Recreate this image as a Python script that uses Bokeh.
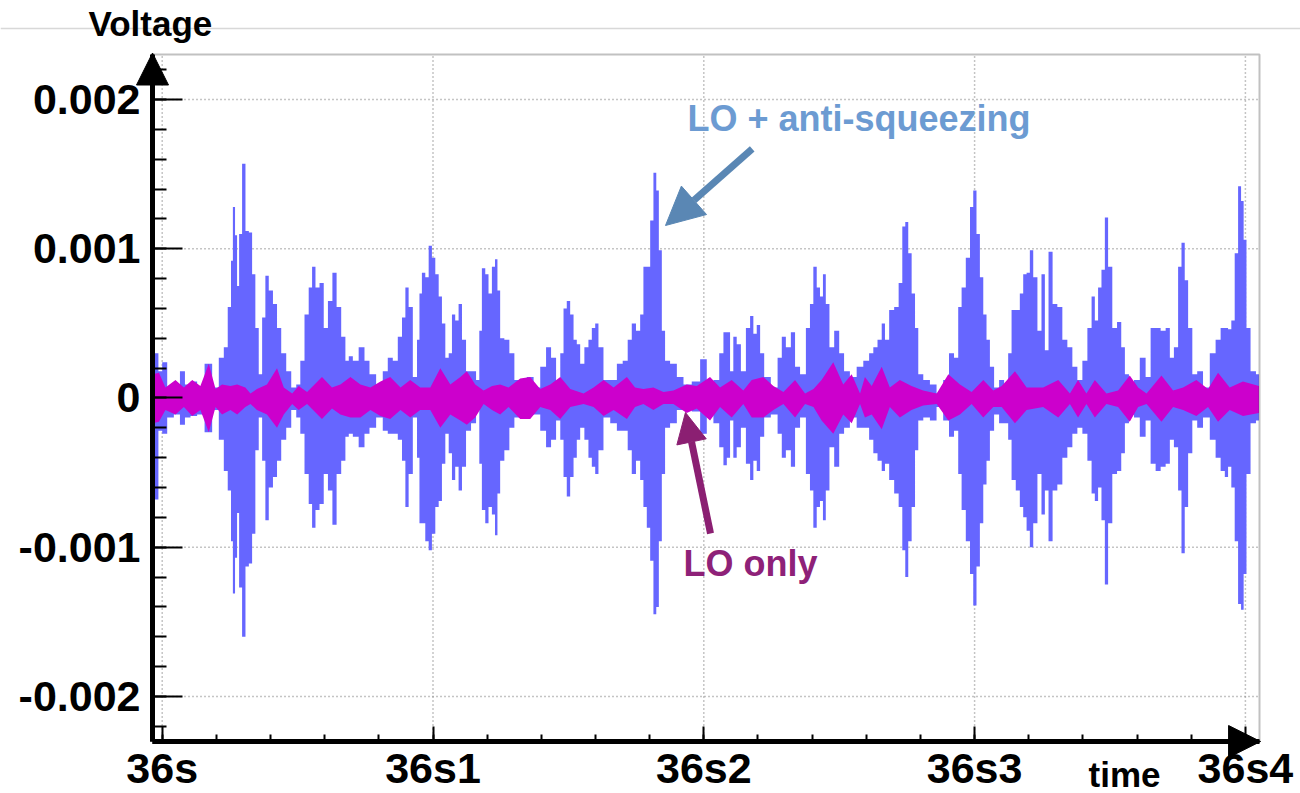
from bokeh.plotting import figure
from bokeh.models import (ColumnDataSource, Range1d, FixedTicker, Label, Arrow, Span,
                          NormalHead, CustomJSTickFormatter, BoxAnnotation)
from bokeh.embed import file_html
from bokeh.resources import INLINE

# ---------------- data (time in ms after 36 s, voltage in mV) ----------------
blue_t = [-3.5, -2.2, -0.6, 0.6, 3.1, 5.5, 7.6, 9.2, 11.7, 14.1, 17.2, 19.7, 22.1, 23.4, 25.0, 25.8, 26.4,
          27.4, 27.9, 28.9, 30.1, 31.4, 32.6, 33.8, 35.0, 36.3, 37.5, 38.7, 40.0, 41.8, 43.0, 44.9, 46.7,
          48.6, 50.4, 51.6, 53.5, 54.7, 56.0, 57.2, 59.0, 60.3, 62.1, 63.6, 65.2, 67.0, 68.3, 69.5, 71.3,
          73.8, 75.6, 77.5, 80.5, 82.4, 84.2, 86.1, 87.9, 89.2, 90.4, 91.6, 93.5, 94.7, 95.3, 96.5, 97.8,
          99.0, 100.2, 101.5, 102.7, 103.9, 105.2, 106.4, 107.6, 108.8, 110.1, 111.3, 113.1, 115.0, 116.8,
          117.4, 118.7, 119.9, 121.1, 122.4, 123.4, 124.2, 125.4, 127.3, 129.1, 131.0, 133.4, 135.9, 138.4,
          140.8, 142.7, 144.5, 146.4, 147.6, 148.8, 150.0, 151.3, 152.5, 153.7, 155.0, 156.8, 158.0, 159.3,
          160.5, 161.7, 164.2, 166.7, 169.1, 171.0, 172.8, 174.0, 175.9, 177.1, 178.3, 179.6, 180.8, 182.0,
          182.9, 183.9, 185.1, 186.3, 188.8, 191.3, 193.7, 197.4, 199.9, 202.3, 204.8, 206.6, 207.9, 209.1,
          210.3, 211.5, 212.8, 214.6, 216.5, 217.7, 218.9, 220.2, 221.4, 223.2, 226.3, 228.2, 229.4, 231.2,
          233.1, 234.3, 236.8, 238.6, 239.8, 241.1, 242.3, 243.5, 244.5, 245.6, 247.2, 249.1, 250.9, 252.7,
          255.2, 257.7, 260.1, 262.0, 263.2, 265.1, 266.3, 267.5, 269.4, 271.2, 272.7, 273.9, 274.9, 276.1,
          277.4, 278.6, 279.8, 282.3, 284.7, 287.2, 289.6, 291.5, 293.3, 294.6, 295.8, 297.7, 298.9, 300.1,
          301.3, 302.6, 303.8, 305.0, 306.3, 308.1, 310.0, 311.8, 313.0, 314.3, 316.1, 317.3, 318.6, 319.8,
          321.0, 322.3, 324.1, 325.3, 326.6, 328.0, 329.6, 331.5, 333.3, 335.2, 337.0, 338.9, 340.7, 342.6,
          343.8, 345.0, 346.2, 347.5, 348.7, 349.9, 351.8, 353.4, 354.9, 356.1, 357.9, 359.8, 362.2, 364.1,
          365.9, 367.8, 369.6, 371.5, 372.7, 374.5, 375.8, 377.0, 378.2, 379.5, 381.3, 383.1, 385.6, 388.1,
          389.9, 391.8, 393.0, 394.2, 395.4, 396.7, 397.9, 398.9, 399.8, 401.0, 402.8, 405.0]
blue_hi = [0.30, 0.30, 0.18, 0.24, 0.07, 0.09, 0.18, 0.09, 0.11, 0.08, 0.23, 0.07, 0.27, 0.34, 0.61, 0.92, 1.28,
           1.09, 0.75, 1.10, 1.57, 1.12, 1.11, 0.83, 0.47, 0.16, 0.54, 0.82, 0.72, 0.63, 0.47, 0.30, 0.18,
           0.07, 0.09, 0.25, 0.56, 0.74, 0.88, 0.74, 0.77, 0.47, 0.65, 0.84, 0.61, 0.41, 0.25, 0.28, 0.25,
           0.34, 0.25, 0.16, 0.07, 0.18, 0.27, 0.25, 0.41, 0.54, 0.74, 0.61, 0.14, 0.39, 0.70, 0.84, 0.81,
           1.02, 0.94, 0.83, 0.68, 0.50, 0.27, 0.30, 0.56, 0.52, 0.63, 0.39, 0.18, 0.18, 0.12,
           0.45, 0.87, 0.83, 0.70, 0.88, 0.93, 0.72, 0.40, 0.39, 0.30, 0.12, 0.09, 0.14, 0.07,
           0.21, 0.34, 0.27, 0.09, 0.30, 0.60, 0.65, 0.56, 0.39, 0.36, 0.23, 0.34, 0.39, 0.47,
           0.50, 0.34, 0.12, 0.12, 0.23, 0.25, 0.39, 0.50, 0.45, 0.56, 0.88, 0.88, 1.19, 1.51,
           1.39, 0.99, 0.45, 0.25, 0.23, 0.14, 0.09, 0.11, 0.26, 0.07, 0.12, 0.30, 0.44, 0.44,
           0.18, 0.41, 0.36, 0.18, 0.47, 0.55, 0.43, 0.49, 0.30, 0.14, 0.07, 0.27, 0.41, 0.34,
           0.44, 0.21, 0.16, 0.47, 0.63, 0.88, 0.74, 0.68, 0.83, 0.63, 0.34, 0.45, 0.30, 0.18,
           0.14, 0.21, 0.25, 0.30, 0.34, 0.39, 0.50, 0.39, 0.59, 0.61, 0.77, 1.15, 1.18, 0.97,
           0.70, 0.47, 0.16, 0.12, 0.09, 0.03, 0.12, 0.30, 0.27, 0.61, 0.74, 0.94, 1.28, 1.39,
           1.10, 0.81, 0.56, 0.39, 0.21, 0.07, 0.12, 0.07, 0.30, 0.59, 0.59, 0.70, 0.83, 0.84,
           0.99, 0.81, 0.45, 0.83, 0.32, 0.98, 0.63, 0.61, 0.39, 0.34, 0.21, 0.12, 0.25, 0.47,
           0.68, 0.52, 0.74, 0.86, 1.21, 0.88, 0.47, 0.51, 0.34, 0.16, 0.07, 0.12, 0.27, 0.14,
           0.47, 0.47, 0.45, 0.47, 0.27, 0.34, 0.88, 1.04, 0.79, 0.47, 0.16, 0.18, 0.07, 0.30,
           0.39, 0.47, 0.47, 0.46, 0.52, 0.97, 1.42, 1.32, 1.06, 0.47, 0.18, 0.16]
blue_lo = [-0.68, -0.68, -0.22, -0.24, -0.13, -0.11, -0.18, -0.13, -0.12, -0.11, -0.23, -0.08, -0.28, -0.49, -0.62, -0.96, -1.31,
           -1.07, -0.77, -1.27, -1.60, -1.13, -1.11, -0.91, -0.35, -0.13, -0.42, -0.82, -0.60, -0.53, -0.42, -0.28, -0.20,
           -0.08, -0.13, -0.24, -0.51, -0.71, -0.87, -0.75, -0.71, -0.51, -0.62, -0.85, -0.51, -0.42, -0.26, -0.24, -0.26,
           -0.33, -0.24, -0.20, -0.13, -0.22, -0.24, -0.24, -0.28, -0.42, -0.73, -0.51, -0.13, -0.40, -0.84, -0.84, -0.96,
           -1.02, -0.91, -0.73, -0.69, -0.44, -0.24, -0.37, -0.55, -0.46, -0.62, -0.46, -0.22, -0.17, -0.08,
           -0.44, -0.75, -0.84, -0.73, -0.78, -0.92, -0.64, -0.42, -0.35, -0.20, -0.13, -0.13, -0.11, -0.11,
           -0.22, -0.33, -0.28, -0.15, -0.28, -0.53, -0.66, -0.53, -0.40, -0.28, -0.20, -0.28, -0.40, -0.46,
           -0.51, -0.35, -0.13, -0.17, -0.22, -0.22, -0.35, -0.51, -0.42, -0.55, -0.73, -0.87, -1.09, -1.45,
           -1.40, -0.96, -0.51, -0.20, -0.17, -0.08, -0.08, -0.09, -0.24, -0.11, -0.17, -0.33, -0.45, -0.40,
           -0.15, -0.40, -0.33, -0.20, -0.44, -0.55, -0.42, -0.49, -0.26, -0.13, -0.11, -0.24, -0.40, -0.35,
           -0.46, -0.20, -0.13, -0.51, -0.62, -0.87, -0.73, -0.69, -0.82, -0.62, -0.33, -0.46, -0.24, -0.20,
           -0.13, -0.20, -0.20, -0.28, -0.37, -0.42, -0.49, -0.44, -0.55, -0.64, -0.73, -1.02, -1.20, -0.96,
           -0.73, -0.35, -0.15, -0.13, -0.15, -0.06, -0.15, -0.26, -0.22, -0.51, -0.75, -0.96, -1.18, -1.39,
           -1.13, -0.84, -0.58, -0.42, -0.22, -0.11, -0.17, -0.17, -0.28, -0.55, -0.62, -0.73, -0.80, -0.89,
           -1.00, -0.84, -0.51, -0.78, -0.62, -0.96, -0.62, -0.58, -0.40, -0.33, -0.24, -0.20, -0.24, -0.42,
           -0.64, -0.69, -0.60, -0.82, -1.25, -0.84, -0.51, -0.49, -0.37, -0.17, -0.11, -0.13, -0.26, -0.15,
           -0.44, -0.49, -0.46, -0.44, -0.28, -0.33, -0.62, -1.04, -0.73, -0.37, -0.15, -0.20, -0.13, -0.28,
           -0.40, -0.49, -0.53, -0.46, -0.60, -0.96, -1.38, -1.42, -1.18, -0.51, -0.17, -0.15]

mag_t = [-3.5, -1.2, 1.2, 4.9, 8.0, 11.1, 14.1, 17.2, 19.7, 22.1, 25.2, 27.7, 30.7, 32.6, 35.0, 38.7, 42.4,
         44.9, 48.0, 50.4, 53.5, 59.0, 62.7, 65.8, 69.5, 73.2, 76.9, 80.6, 84.2, 88.0, 91.6, 95.3, 99.0,
         102.7, 106.4, 110.1, 112.5, 115.6, 118.7, 121.8, 124.8, 127.9, 132.2, 135.9, 139.6, 143.3, 147.0,
         150.7, 155.6, 159.3, 163.0, 166.7, 171.6, 174.6, 177.7, 181.4, 185.1, 188.8, 193.7, 197.4, 202.3,
         206.0, 210.3, 214.6, 217.7, 222.0, 225.7, 229.4, 233.7, 237.4, 240.5, 243.5, 247.8, 251.5, 254.6,
         257.7, 259.5, 262.0, 265.7, 268.7, 272.4, 276.7, 281.0, 286.0, 290.3, 294.6, 298.9, 303.2, 306.9,
         310.0, 314.9, 319.2, 325.3, 330.9, 335.2, 338.2, 341.3, 344.4, 348.7, 353.0, 357.3, 360.4, 363.5,
         369.0, 373.3, 377.0, 381.9, 386.2, 389.9, 394.2, 399.1, 405.0]
mag_hi = [0.16, 0.17, 0.07, 0.12, 0.07, 0.12, 0.08, 0.23, 0.06, 0.09, 0.08, 0.09, 0.07, 0.03, 0.06, 0.09, 0.20,
          0.07, 0.03, 0.08, 0.04, 0.14, 0.07, 0.09, 0.14, 0.09, 0.07, 0.11, 0.14, 0.07, 0.12, 0.07, 0.07,
          0.20, 0.09, 0.14, 0.18, 0.09, 0.05, 0.08, 0.09, 0.07, 0.13, 0.14, 0.06, 0.09, 0.14,
          0.06, 0.03, 0.07, 0.12, 0.07, 0.14, 0.07, 0.06, 0.07, 0.04, 0.05, 0.09, 0.08, 0.14,
          0.07, 0.12, 0.05, 0.12, 0.14, 0.08, 0.04, 0.12, 0.03, 0.06, 0.12, 0.24, 0.09, 0.16,
          0.03, 0.14, 0.08, 0.21, 0.07, 0.12, 0.08, 0.05, 0.03, 0.16, 0.09, 0.04, 0.12, 0.05,
          0.08, 0.18, 0.07, 0.07, 0.12, 0.03, 0.12, 0.03, 0.12, 0.03, 0.05, 0.15, 0.07, 0.03,
          0.15, 0.05, 0.07, 0.12, 0.06, 0.17, 0.07, 0.11, 0.08]
mag_lo = [-0.17, -0.16, -0.08, -0.11, -0.06, -0.12, -0.08, -0.23, -0.06, -0.11, -0.08, -0.11, -0.06, -0.04, -0.08, -0.11, -0.20,
          -0.11, -0.04, -0.08, -0.04, -0.14, -0.07, -0.11, -0.13, -0.13, -0.08, -0.12, -0.14, -0.08, -0.13, -0.08, -0.08,
          -0.20, -0.11, -0.15, -0.18, -0.13, -0.04, -0.08, -0.11, -0.06, -0.14, -0.14, -0.06, -0.08, -0.14,
          -0.06, -0.04, -0.06, -0.12, -0.08, -0.14, -0.06, -0.04, -0.08, -0.04, -0.04, -0.10, -0.07, -0.15,
          -0.06, -0.13, -0.04, -0.13, -0.13, -0.08, -0.04, -0.13, -0.04, -0.06, -0.15, -0.24, -0.11, -0.17,
          -0.04, -0.13, -0.11, -0.21, -0.06, -0.13, -0.08, -0.05, -0.04, -0.15, -0.11, -0.04, -0.13, -0.06,
          -0.06, -0.17, -0.08, -0.06, -0.13, -0.04, -0.13, -0.04, -0.13, -0.04, -0.06, -0.16, -0.06, -0.04,
          -0.16, -0.06, -0.08, -0.12, -0.06, -0.16, -0.08, -0.12, -0.10]

x_ticks = [36.0, 36.1, 36.2, 36.3, 36.4]
x_labels = ["36s", "36s1", "36s2", "36s3", "36s4"]
y_ticks = [-0.002, -0.001, 0.0, 0.001, 0.002]
y_labels = ["-0.002", "-0.001", "0", "0.001", "0.002"]

# ---------------- figure ----------------
# plotting box limits
x_lo, x_hi = 35.996418, 36.405207
y_lim = 0.0023023
# whole canvas is the frame; axes are fixed at the plotting box edges
p = figure(width=1300, height=793, output_backend="svg", toolbar_location=None, tools="",
           title=None,
           x_range=Range1d(35.940288, 36.420347), y_range=Range1d(-0.0026508, 0.0026642),
           min_border=0, min_border_left=0, min_border_right=0, min_border_top=0, min_border_bottom=0,
           background_fill_color="white", border_fill_color="white")
p.outline_line_color = None
p.grid.visible = False

# grid lines (dotted) at major ticks
grid_style = dict(line_color="#8a8a8a", line_dash="1 3", line_width=1.5)
p.segment(x0=x_ticks, y0=[-y_lim] * len(x_ticks), x1=x_ticks, y1=[y_lim] * len(x_ticks), **grid_style)
p.segment(x0=[x_lo] * len(y_ticks), y0=y_ticks, x1=[x_hi] * len(y_ticks), y1=y_ticks, **grid_style)

blue_src = ColumnDataSource(dict(x=[36 + t / 1000 for t in blue_t],
                                 y1=[v / 1000 for v in blue_lo],
                                 y2=[v / 1000 for v in blue_hi]))
mag_src = ColumnDataSource(dict(x=[36 + t / 1000 for t in mag_t],
                                y1=[v / 1000 for v in mag_lo],
                                y2=[v / 1000 for v in mag_hi]))
p.varea_step(x="x", y1="y1", y2="y2", source=blue_src, fill_color="#6666ff", step_mode="center")
p.varea(x="x", y1="y1", y2="y2", source=mag_src, fill_color="#cc00cc")

# plotting box border
p.add_layout(BoxAnnotation(left=x_lo, right=x_hi, bottom=-y_lim, top=y_lim,
                           fill_color=None, line_color="#333333", line_width=2))

def fmt(vals, labs):
    return CustomJSTickFormatter(args=dict(vals=vals, labs=labs), code="""
        for (let i = 0; i < vals.length; i++) {
            if (Math.abs(tick - vals[i]) < 1e-9) return labs[i];
        }
        return '';
    """)

x_minor = [round(36 + 0.02 * i, 2) for i in range(21)]
y_minor = [round(-0.0022 + 0.0002 * i, 4) for i in range(23)]

xa = p.xaxis[0]
ya = p.yaxis[0]
xa.fixed_location = -y_lim
ya.fixed_location = x_lo
xa.bounds = (x_lo, x_hi)
ya.bounds = (-y_lim, y_lim)
xa.ticker = FixedTicker(ticks=x_ticks, minor_ticks=x_minor)
ya.ticker = FixedTicker(ticks=y_ticks, minor_ticks=y_minor)
xa.formatter = fmt(x_ticks, x_labels)
ya.formatter = fmt(y_ticks, y_labels)
for ax in (xa, ya):
    ax.axis_line_width = 5
    ax.axis_line_color = "black"
    ax.major_tick_out = 0
    ax.minor_tick_out = 0
    ax.major_tick_line_width = 2
    ax.minor_tick_line_width = 2
    ax.major_tick_line_color = "black"
    ax.minor_tick_line_color = "black"
    ax.major_label_text_font = "Liberation Sans"
    ax.major_label_text_font_style = "bold"
    ax.major_label_text_font_size = "43px"
    ax.major_label_text_color = "black"
xa.major_tick_in = 15
xa.minor_tick_in = 7
ya.major_tick_in = 30
ya.minor_tick_in = 14
ya.major_label_standoff = 12
xa.major_label_standoff = 2

# faint page line at the top
p.add_layout(Span(location=0.0024765, dimension="width", line_color="#d8d8d8", line_width=1.5))

# axis arrows
p.add_layout(Arrow(end=NormalHead(size=32, fill_color="black", line_color="black"),
                   x_start=x_lo, y_start=-y_lim, x_end=x_lo, y_end=y_lim + 0.00001,
                   line_width=5, line_color="black"))
p.add_layout(Arrow(end=NormalHead(size=32, fill_color="black", line_color="black"),
                   x_start=x_lo, y_start=-y_lim, x_end=x_hi + 0.0004, y_end=-y_lim,
                   line_width=5, line_color="black"))

# axis titles (baselines measured in pixels, converted to data units)
font = "Liberation Sans"
dy = 12 / 149200.0
p.add_layout(Label(x=35.97278, y=0.0024296 + dy, text="Voltage", text_font=font, text_font_style="bold",
                   text_font_size="35px", text_color="black", text_baseline="alphabetic"))
p.add_layout(Label(x=36.34206, y=-0.0026039 + dy, text="time", text_font=font, text_font_style="bold",
                   text_font_size="35px", text_color="black", text_baseline="alphabetic"))

# annotations
blue_arrow = "#5a87b4"
p.add_layout(Arrow(end=NormalHead(size=38, fill_color=blue_arrow, line_color=blue_arrow),
                   x_start=36.21787, y_start=0.0016702, x_end=36.18586, y_end=0.0011562,
                   line_width=7, line_color=blue_arrow))
p.add_layout(Label(x=36.19398, y=0.0017929 + dy, text="LO + anti-squeezing", text_font=font,
                   text_font_style="bold", text_font_size="36px", text_color="#6c9bd2",
                   text_baseline="alphabetic"))
mag_arrow = "#8b1f72"
p.add_layout(Arrow(end=NormalHead(size=30, fill_color=mag_arrow, line_color=mag_arrow),
                   x_start=36.20248, y_start=-0.00090818, x_end=36.19323, y_end=-0.0000972,
                   line_width=7, line_color=mag_arrow))
p.add_layout(Label(x=36.19250, y=-0.0011897 + dy, text="LO only", text_font=font,
                   text_font_style="bold", text_font_size="36px", text_color="#8e2178",
                   text_baseline="alphabetic"))

open("out.html", "w").write(file_html(p, INLINE))
